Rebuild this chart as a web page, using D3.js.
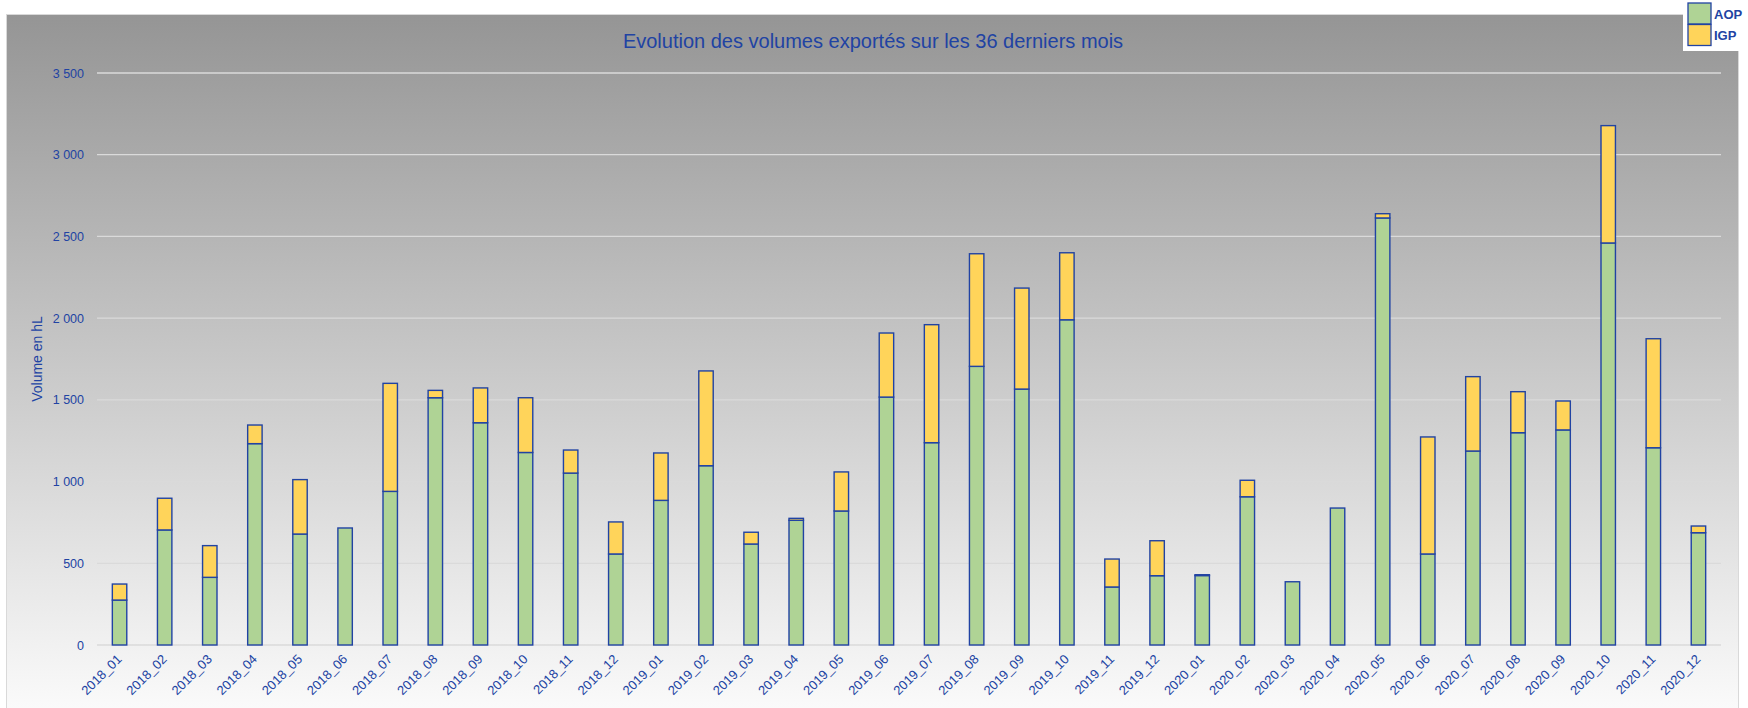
<!DOCTYPE html>
<html>
<head>
<meta charset="utf-8">
<script src="https://cdn.jsdelivr.net/npm/d3@7"></script>
<style>
  body { margin: 0; background: #fff; }
  svg { display: block; }
</style>
</head>
<body>
<div id="chart"></div>
<script>
// months shown on the x axis
const months = ["2018_01","2018_02","2018_03","2018_04","2018_05","2018_06","2018_07","2018_08","2018_09","2018_10","2018_11","2018_12",
  "2019_01","2019_02","2019_03","2019_04","2019_05","2019_06","2019_07","2019_08","2019_09","2019_10","2019_11","2019_12",
  "2020_01","2020_02","2020_03","2020_04","2020_05","2020_06","2020_07","2020_08","2020_09","2020_10","2020_11","2020_12"];

// volumes in hL
const aop = [275, 704, 414, 1232, 679, 716, 940, 1513, 1360, 1178, 1052, 557,
  885, 1097, 618, 763, 820, 1517, 1238, 1705, 1566, 1990, 355, 424,
  425, 907, 387, 838, 2613, 557, 1187, 1299, 1316, 2460, 1207, 687];
const igp = [98, 194, 194, 114, 333, 0, 661, 45, 213, 335, 141, 196,
  290, 580, 72, 12, 239, 392, 722, 689, 618, 410, 171, 214,
  5, 101, 0, 0, 26, 716, 455, 251, 177, 718, 667, 41];

const yTicks = [0, 500, 1000, 1500, 2000, 2500, 3000, 3500];
const seriesKeys = ["AOP", "IGP"];

const width = 1748, height = 708;
const margin = ({ top: 73, right: 27, bottom: 63, left: 97 });

const blue = "#2143a3";
const colors = { AOP: "#afd395", IGP: "#ffd45a" };

const svg = d3.select("#chart").append("svg")
  .attr("width", width)
  .attr("height", height)
  .style("font-family", "'Liberation Sans', Arial, sans-serif");

// background gradient
const grad = svg.append("defs").append("linearGradient")
  .attr("id", "bg").attr("x1", 0).attr("y1", 0).attr("x2", 0).attr("y2", 1);
grad.append("stop").attr("offset", "0%").attr("stop-color", "#959595");
grad.append("stop").attr("offset", "100%").attr("stop-color", "#fbfbfb");

svg.append("rect")
  .attr("x", 6.5).attr("y", 14.5)
  .attr("width", 1732).attr("height", 700)
  .attr("fill", "url(#bg)")
  .attr("stroke", "#d9d9d9");

const table = months.map((m, i) => ({ month: m, AOP: aop[i], IGP: igp[i] }));
const stacked = d3.stack().keys(seriesKeys)(table);

const x = d3.scaleBand()
  .domain(months)
  .range([margin.left, width - margin.right])
  .paddingInner(0.68)
  .paddingOuter(0.34);

const y = d3.scaleLinear()
  .domain([0, 3500])
  .range([height - margin.bottom, margin.top]);

const fr = d3.formatLocale({ decimal: ",", thousands: " ", grouping: [3], currency: ["", " €"] });
const fmt = fr.format(",");

// gridlines
svg.append("g")
  .selectAll("line")
  .data(yTicks)
  .enter().append("line")
  .attr("x1", margin.left).attr("x2", width - margin.right)
  .attr("y1", d => y(d)).attr("y2", d => y(d))
  .attr("stroke", "#dadada")
  .attr("stroke-width", 1.3);

// y axis labels
const yAxis = svg.append("g")
  .attr("transform", "translate(" + (margin.left - 13) + ",0)")
  .call(d3.axisLeft(y).tickValues(yTicks).tickFormat(fmt).tickSize(0).tickPadding(0));
yAxis.select(".domain").remove();
yAxis.selectAll("text")
  .attr("fill", blue)
  .attr("font-size", 12.5)
  .style("font-family", "'Liberation Sans', Arial, sans-serif");

// bars
svg.append("g")
  .selectAll("g")
  .data(stacked)
  .enter().append("g")
  .attr("fill", d => colors[d.key])
  .selectAll("rect")
  .data(d => d)
  .enter().append("rect")
  .attr("x", d => x(d.data.month))
  .attr("width", x.bandwidth())
  .attr("y", d => y(d[1]))
  .attr("height", d => y(d[0]) - y(d[1]))
  .attr("stroke", blue)
  .attr("stroke-width", 1.4);

// x labels
svg.append("g")
  .selectAll("text")
  .data(months)
  .enter().append("text")
  .attr("transform", d => "translate(" + (x(d) + x.bandwidth() / 2 + 3) + "," + (height - margin.bottom + 15) + ")rotate(-45)")
  .attr("text-anchor", "end")
  .attr("font-size", 13)
  .attr("fill", blue)
  .text(d => d);

// title
svg.append("text")
  .attr("x", 873)
  .attr("y", 48)
  .attr("text-anchor", "middle")
  .attr("font-size", 20)
  .attr("fill", blue)
  .text("Evolution des volumes exportés sur les 36 derniers mois");

// y axis title
svg.append("text")
  .attr("transform", "translate(42,359)rotate(-90)")
  .attr("text-anchor", "middle")
  .attr("font-size", 14)
  .attr("fill", blue)
  .text("Volume en hL");

// legend
const legend = svg.append("g");
legend.append("rect")
  .attr("x", 1683).attr("y", 0)
  .attr("width", 65).attr("height", 51)
  .attr("fill", "#fff");

const items = legend.selectAll("g")
  .data(seriesKeys)
  .enter().append("g")
  .attr("transform", (d, i) => "translate(1688," + (3 + i * 21.5) + ")");
items.append("rect")
  .attr("width", 23).attr("height", 21)
  .attr("fill", d => colors[d])
  .attr("stroke", blue)
  .attr("stroke-width", 1.3);
items.append("text")
  .attr("x", 26).attr("y", 15.5)
  .attr("font-size", 13)
  .attr("font-weight", "bold")
  .attr("fill", blue)
  .text(d => d);
</script>
</body>
</html>
